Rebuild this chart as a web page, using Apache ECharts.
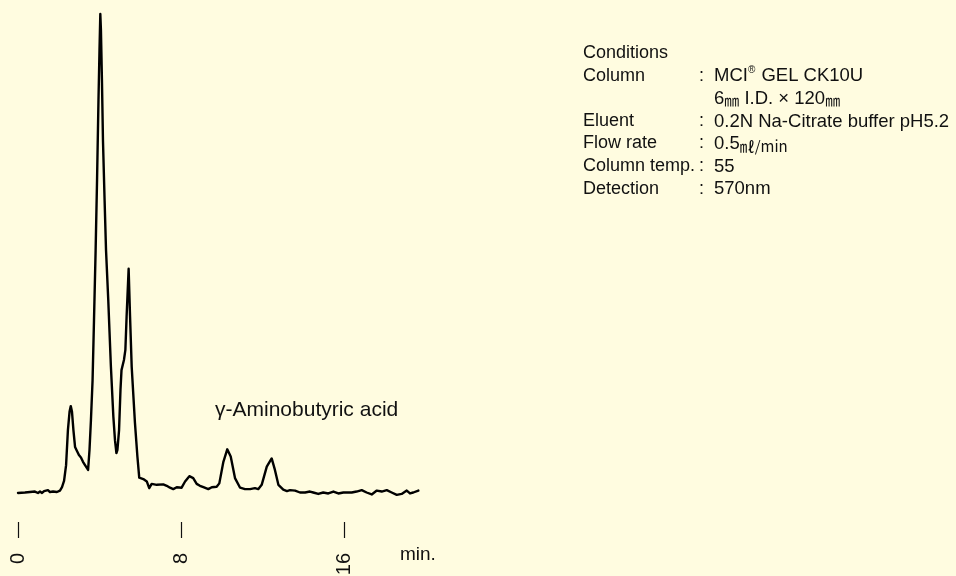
<!DOCTYPE html>
<html>
<head>
<meta charset="utf-8">
<title>Chromatogram – γ-Aminobutyric acid</title>
<script src="https://cdn.jsdelivr.net/npm/echarts@6/dist/echarts.min.js"></script>
<style>
  html, body { margin: 0; padding: 0; background: #FFFCE0; }
  #chart { width: 956px; height: 576px; }
</style>
</head>
<body>
<div id="chart"></div>
<script>
// Retention time (min) and detector response (arbitrary units, baseline = 0)
const retentionTime = [
  0, 0.34, 0.59, 0.83, 0.98, 1.08, 1.18, 1.28, 1.37, 1.47, 1.57, 1.72, 1.91, 2.06, 2.16, 2.26,
  2.36, 2.45, 2.53, 2.59, 2.65, 2.72, 2.80, 2.90, 2.99, 3.09, 3.19, 3.29, 3.36, 3.44,
  3.51, 3.58, 3.66, 3.73, 3.81, 3.88, 3.95, 4.00, 4.04, 4.07, 4.12, 4.17, 4.25, 4.32,
  4.43, 4.56, 4.68, 4.76, 4.83, 4.88, 4.96, 5.03, 5.08, 5.20, 5.27, 5.33, 5.43,
  5.50, 5.58, 5.74, 5.86, 5.95, 6.15, 6.32, 6.44, 6.56, 6.81, 7.13, 7.30, 7.46, 7.62,
  7.79, 8.03, 8.20, 8.41, 8.60, 8.77, 8.93, 9.10, 9.34, 9.51, 9.75, 9.88, 10.08, 10.27,
  10.44, 10.65, 10.90, 11.14, 11.39, 11.63, 11.79, 11.96, 12.21, 12.45, 12.61, 12.78,
  13.02, 13.20, 13.35, 13.60, 13.84, 14.09, 14.33, 14.49, 14.74, 14.98, 15.23, 15.48,
  15.72, 15.97, 16.13, 16.38, 16.62, 16.87, 17.11, 17.36, 17.61, 17.85, 18.10, 18.34,
  18.59, 18.83, 19.08, 19.24, 19.40, 19.65
];
const response = [
  -0.1, 0, 0.1, 0.2, -0.1, 0.2, -0.1, 0.3, 0, 0.5, 0.1, 0.2, 0.1, 0.4, 1.1, 2.4,
  5.7, 13.0, 16.8, 18.0, 16.8, 13.0, 9.5, 8.6, 7.8, 7.3, 6.4, 5.7, 5.5, 4.7,
  8.9, 15.1, 23.4, 35.9, 50.5, 65.1, 81.8, 92.2, 99.7, 96.4, 85.9, 73.4, 60.9, 50.5,
  40.1, 26.2, 15.8, 10.9, 8.2, 8.9, 13.0, 21.4, 25.5, 27.6, 29.7, 36.6, 46.6,
  36.6, 26.2, 14.5, 7.5, 3.1, 2.8, 2.3, 0.9, 1.8, 1.6, 1.7, 1.4, 1.0, 0.7,
  1.1, 1.0, 2.3, 3.4, 3.0, 1.8, 1.4, 1.1, 0.7, 1.1, 1.2, 1.9, 6.4, 9.0,
  7.5, 3.0, 1.0, 0.7, 0.7, 0.9, 0.7, 1.6, 5.4, 7.1, 4.7, 1.6,
  0.6, 0.3, 0.5, 0.4, 0.0, 0.0, 0.2, 0.0, -0.3, 0.0, -0.2, 0.2,
  -0.2, 0.0, 0.0, 0.0, 0.2, 0.5, 0.0, -0.4, 0.4, 0.2, 0.5, 0.0,
  -0.5, -0.3, 0.4, -0.2, 0.0, 0.4
];

// Time axis tick labels
const timeTicks = [0, 8, 16];
const timeUnit = 'min.';

// Peak annotation
const peakLabel = 'γ-Aminobutyric acid';

// Operating conditions
const conditionsTitle = 'Conditions';
const conditionNames = ['Column', '', 'Eluent', 'Flow rate', 'Column temp.', 'Detection'];
const conditionValues = [
  '{t|MCI}{sup|®}{t| GEL CK10U}',
  '{t|6}{jp|㎜}{t| I.D. × 120}{jp|㎜}',
  '{t|0.2N Na-Citrate buffer pH5.2}',
  '{t|0.5}{jp|㎖/min}',
  '{t|55}',
  '{t|570nm}'
];

const FONT = '"Liberation Sans", Arial, "Noto Sans CJK JP", sans-serif';
const INK = '#111';

const chart = echarts.init(document.getElementById('chart'), null, { renderer: 'canvas' });

const points = retentionTime.map((t, i) => [t, response[i]]);

// Conditions block as graphic texts
const lineGap = 22.6;
const top0 = 53;
const graphics = [];
graphics.push({
  type: 'text', x: 583, y: top0,
  style: { text: conditionsTitle, font: '18px ' + FONT, fill: INK, verticalAlign: 'middle' }
});
conditionNames.forEach((name, i) => {
  const y = top0 + (i + 1) * lineGap;
  if (name) {
    graphics.push({
      type: 'text', x: 583, y: y,
      style: { text: name, font: '18px ' + FONT, fill: INK, verticalAlign: 'middle' }
    });
    graphics.push({
      type: 'text', x: 699, y: y,
      style: { text: ':', font: '18px ' + FONT, fill: INK, verticalAlign: 'middle' }
    });
  }
  graphics.push({
    type: 'text', x: 714, y: y,
    style: {
      text: conditionValues[i],
      fill: INK,
      verticalAlign: 'middle',
      rich: {
        t: { fontFamily: FONT, fontSize: 18.5, lineHeight: 20, fill: INK, verticalAlign: 'bottom' },
        sup: { fontFamily: FONT, fontSize: 10, lineHeight: 20, fill: INK, verticalAlign: 'top', padding: [0, 1, 0, 0] },
        jp: { fontFamily: '"Noto Sans CJK JP", sans-serif', fontSize: 15, lineHeight: 20, fill: INK, verticalAlign: 'bottom' }
      }
    }
  });
});

// Peak name and time unit
graphics.push({
  type: 'text', x: 215, y: 410,
  style: { text: peakLabel, font: '21px ' + FONT, fill: INK, verticalAlign: 'middle' }
});
graphics.push({
  type: 'text', x: 400, y: 555,
  style: { text: timeUnit, font: '19px ' + FONT, fill: INK, verticalAlign: 'middle' }
});

chart.setOption({
  backgroundColor: '#FFFCE0',
  animation: false,
  grid: {
    left: 18,
    top: 12.5,
    width: 407.5,
    height: 504,
    containLabel: false,
    outerBoundsMode: 'none'
  },
  xAxis: {
    type: 'value',
    min: 0,
    max: 20,
    interval: 8,
    offset: 5.5,
    axisLine: { show: false, onZero: false },
    splitLine: { show: false },
    axisTick: {
      show: true,
      customValues: timeTicks,
      length: 16,
      lineStyle: { color: INK, width: 1.2 }
    },
    axisLabel: {
      customValues: timeTicks,
      rotate: 90,
      margin: 31,
      color: INK,
      fontSize: 20,
      fontFamily: FONT
    }
  },
  yAxis: {
    type: 'value',
    min: -5,
    max: 100,
    show: false
  },
  series: [{
    type: 'line',
    data: points,
    showSymbol: false,
    smooth: false,
    clip: false,
    lineStyle: { color: '#000', width: 2.4, join: 'round', cap: 'round' }
  }],
  graphic: graphics
});
</script>
</body>
</html>
